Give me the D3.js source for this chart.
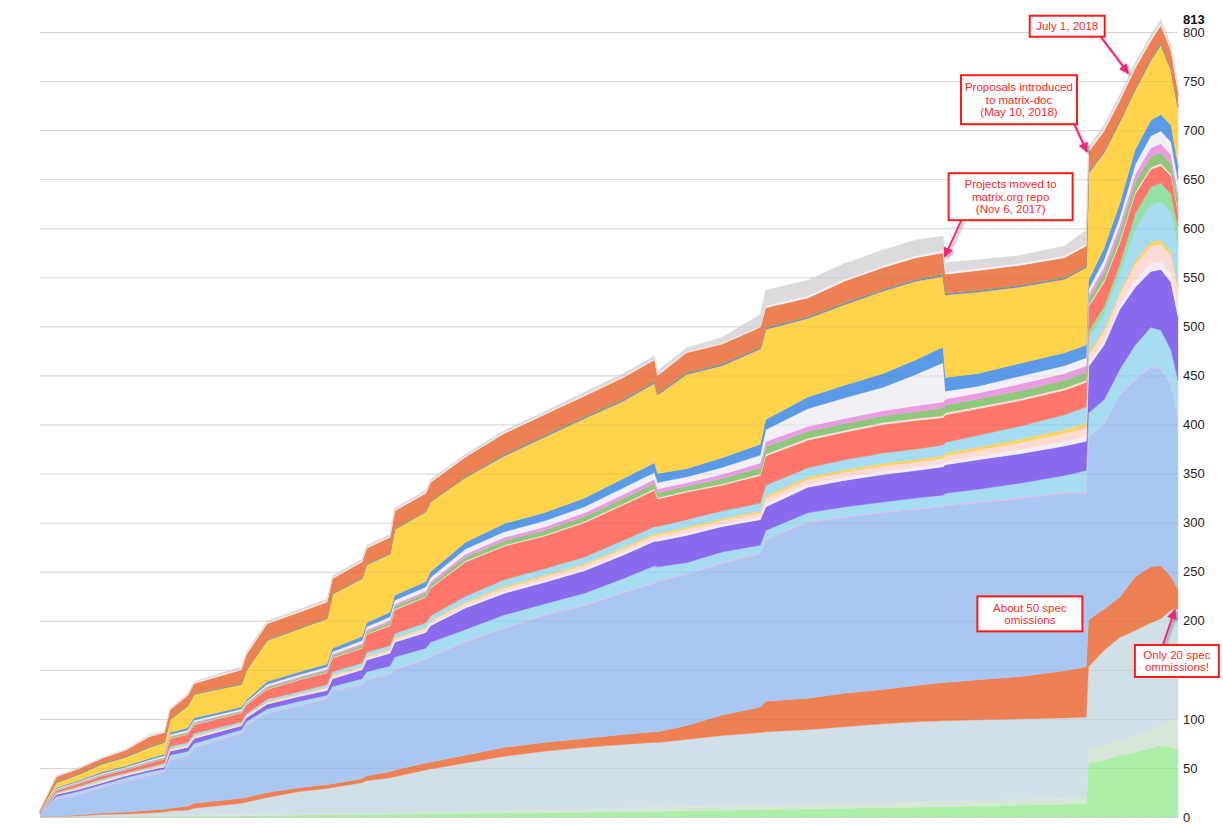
<!DOCTYPE html>
<html><head><meta charset="utf-8">
<script src="https://cdn.jsdelivr.net/npm/d3@7"></script>
<style>body{margin:0;background:#fff;}svg{display:block;font-family:"Liberation Sans",Arial,sans-serif;}</style>
</head><body><svg id="c" width="1223" height="825"></svg>
<script>
// ---------- data ----------
const dates = ["2014-09-01","2014-09-22","2014-10-20","2014-11-20","2014-12-20","2015-01-20","2015-02-08","2015-02-15","2015-03-10","2015-03-18",
"2015-05-18","2015-05-24","2015-06-20","2015-08-01","2015-09-05","2015-09-12","2015-10-20","2015-10-26","2015-11-25","2015-12-01",
"2016-01-10","2016-01-16","2016-03-01","2016-04-20","2016-06-10","2016-08-01","2016-09-20","2016-10-30","2016-11-03","2016-12-10",
"2017-01-25","2017-03-15","2017-03-22","2017-05-15","2017-07-01","2017-08-20","2017-10-01","2017-11-05","2017-11-08","2017-12-20",
"2018-02-10","2018-04-10","2018-05-08","2018-05-11","2018-05-31","2018-06-20","2018-07-10","2018-07-30","2018-08-12","2018-08-25","2018-09-03"];

const greenBase = [0,.1,.2,.5,.6,.7,.8,.8,.9,1, 1.4,1.4,1.6,2,2.2,2.2,2.5,2.6,2.8,2.8, 3.1,3.2,3.6,4,4.4,4.8,5.3,5.8,5.8,6.5, 7,7.6,7.7,8.2,8.8,9.5,10,10.5,10.5,11.2, 12,13,14,55,58,63,66,70,73,71,68];
const greyGreen = [.1,.1,.2,.5,.6,.7,.8,.9,1,1, 1.1,1.1,1.2,1,1.2,1.3,1.5,1.6,1.8,1.9, 2.2,2.2,2.4,3,3.4,3.7,4,4.2,4.2,4.2, 4.5,4.6,4.6,5,5.2,5.3,5.5,5.5,5.5,5.8, 6,6,6,15,15,15,18,19,20,28,32];
const covered = [.2,.3,.6,1.5,1.8,2.6,3.4,4.3,5.1,7, 11.5,12.5,17.2,23,25.6,26.5,31,32.8,35.4,36.3, 42.7,43.6,49,55,59.2,62.5,64.7,66,66,68.3, 71.5,73.8,74.7,75.8,78,80.2,81.5,82,82,82, 82,82,82,83,97,105,106,109,109,112,112];
const omissions = [.2,.5,1,1.5,2,3,3,3,4,5, 5,5,5,4,4,4,4,5,6,7, 7,7,8,9,9,9,10,11,11,14, 21,26,31,32,34,35,37,39,39,41, 43,48,51,48,42,41,55,57,54,34,20];
const lightBlue = [2.5,17,20,26,31,35,38,48,51,56, 66,73,80,83,87,94,95,97,99,102, 105,107,115,121,129,135,144,151,153,154, 154,156,164,179,179,180,179,179,180,180, 181,181,177,186,188,206,200,203,200,195,173];
const pinkLine = [.2,1,1,1,1,1,1,1,1,1, 1,1,1,1,1,1,1,1,1,1, 1,1,1,1,1,1,1,1,1,1, 1,1,1,1,1,1,1,1,1,1, 1,1,1,1,1,1,1,1,1,1,1];
const cyanLow = [.3,2,3,2,3,3,2,5,4,4, 3,3,4,4,3,4,6,8,8,12, 11,14,12,13,11,12,14,17,14,11, 11,8,9,9,10,10,11,11,12,13, 15,17,22,24,24,25,35,40,39,35,39];
const purple = [.3,2,2,2,2,2,2,4,4,5, 4,4,5,5,5,8,9,12,13,15, 16,17,22,22,22,23,24,25,26,28, 26,26,24,26,27,28,28,29,29,30, 30,30,30,47,56,61,59,57,62,69,65];
const whiteLow = [.1,.3,.4,.6,.5,.5,.6,.7,.7,.7, .6,.6,.7,.7,.9,1,1,1.2,1.2,1.3, 1.5,1.5,1.8,2,2,2,2.2,2.2,2.2,2.4, 2.4,2.5,3.3,3,3.2,3.3,3.3,3.3,3.4,3.7, 4.2,4.8,5.2,4,4,5,7,8,8,8,8];
const peach = [.1,.5,.8,1,.8,.8,1,1.3,1.3,1.3, 1,1,1.3,1.3,1.5,1.8,1.8,2,2,2.3, 2.5,2.5,3,3.5,3.5,3.5,3.8,3.8,3.8,4, 4,4.3,5.5,5,5.2,5.5,5.5,5.5,5.8,6.3, 7,8,8.8,8,9,10,16,18,18,19,19];
const yellowThin = [.1,.3,.4,.5,.4,.4,.5,.6,.6,.6, .5,.5,.6,.6,.7,.8,.8,1,1,1.1, 1.2,1.2,1.4,1.7,1.7,1.7,1.8,1.8,1.8,1.9, 1.9,2,2.6,2.4,2.5,2.6,2.6,2.6,2.8,3, 3.4,3.8,4.2,3,3,3,4,4,4,4,4];
const cyanMid = [.2,.9,1.4,1.9,1.3,1.3,1.9,2.4,2.4,2.4, 1.9,1.9,2.4,2.4,2.9,3.4,3.4,3.8,3.8,4.3, 4.8,4.8,5.8,6.8,6.8,6.8,7.2,7.2,7.2,7.7, 7.7,8.2,10.6,9.6,10.1,10.6,10.6,10.6,11,12, 13.4,15.4,16.8,14,15,18,32,38,39,40,41];
const mint = [0,0,0,0,0,0,0,0,0,0, 0,0,0,0,0,0,0,0,0,0, 0,0,0,0,0,0,0,0,0,0, 0,0,0,0,0,0,0,0,0,0, 0,0,0,7,8,10,16,18,19,19,19];
const salmon = [.3,2,3,3,3,4,4,8,8,9, 9,9,10,12,12,14,15,18,20,24, 26,28,35,34,33,35,36,37,28,28, 26,28,30,28,28,29,29,28,28,27, 26,25,25,25,25,22,20,18,18,18,16];
const blush = [.1,.2,.2,.2,.2,.3,.3,.3,.4,.4, .3,.3,.4,.4,.5,.5,.6,.6,.7,.8, .8,.9,1,1,1.2,1.2,1.3,1.4,1.3,1.2, 1.4,1.6,1.8,2,2,2,2,2,2,2, 2,2,2,1.5,2,2,2,2,2,2,2];
const greenMid = [.1,.6,.6,.8,.8,1,1,1.2,1.4,1.4, 1.2,1,1.6,1.6,1.8,2,2.4,2.4,2.8,3, 3.2,3.4,4,4.6,4.8,5,5.4,5.6,5.2,4.8, 5.6,6.4,7.4,7,7,7,7,8,8,8, 8,8,8,6,8,9,10,11,11,11,10];
const pink = [.1,.5,.5,.6,.6,.7,.7,.9,1,1, .9,.7,1.2,1.2,1.3,1.5,1.8,1.8,2.1,2.2, 2.4,2.5,3,3.4,3.6,3.8,4,4.2,3.9,3.6, 4.2,4.8,5.5,5,5,5,6,6,6,6, 7,7,7,5,6,7,8,9,9,9,8];
const whiteMid = [.1,.7,.7,1,1,1.3,1.3,1.6,1.8,1.8, 1.6,1.3,2,2,2.3,2.5,3,3,3.5,3.8, 4,4.2,5,5.8,6,6.2,6.8,7,6.5,6, 7,8,12,18,21,24,32,40,8,7, 8,8,8,5.5,7,8,10,12,13,13,12];
const blue = [.3,1,1,1.4,1.4,1.7,1.7,2,2.4,2.4, 2,1.7,2.8,2.8,3.1,3.5,4.2,4.2,4.9,5.2, 5.6,6,7,8.2,8.4,8.8,9.5,9.8,9.1,8.4, 9.8,11.2,10.3,12,13,14,15,16,14,13, 13,13,13,9,12,14,15,16,17,17,16];
const yellow = [.8,5,6,8,9,11,12,13,22,24, 23,30,42,44,46,55,59,59,59,67, 71,71,66,69,77,81,79,81,80,96, 94,97,92,80,82,84,80,72,84,83, 78,75,79,109,97,83,61,61,71,56,58];
const purpleLine = [.1,.5,.5,.5,.5,.5,.5,.5,.5,.5, .5,.5,.5,.5,.5,.5,.5,.5,.5,.5, .5,.5,.5,1,1,1,1,1,1,1, 1,1,1,1,1,1,1,1,1,1, 1,1,1,1,1,1,1,1,1,1,1];
const greenLine = [.1,.5,.5,.5,.5,.5,.5,.5,.5,.5, .5,.5,.5,.5,.5,.5,.5,.5,.5,.5, .5,.5,.5,1,1,1,1,1,1,1, 1,1,1,1,1,1,1,1,1,1, 1,1,1,1,1,1,1,1,1,1,1];
const orangeTop = [.8,5,5,5,6,10,9,9,10,10, 14,15,16,16,16,15,16,16,16,18, 18,19,20,21,21,21,22,22,18,20, 20,20,20,19,22,22,22,22,19,20, 20,20,20,20,20,20,20,18,18,18,15];
const whiteTop = [.3,.5,.5,.5,.5,1,1,1,1,1, 1,1,1,1,1,1,1,1,1,1, 1,1,1,1,1,1,1,1,1,1, 1,1,2,2,2,2,2,2,2,2, 2,2,2,2,2,2,2,2,2,2,2];
const greyTop = [.3,.5,.5,.5,.5,1,1,1,1,1, 2,2,2,2,2,2,2,2,2,2, 2,2,2,2,2,3,3,3,4,4, 6,12,16,16,16,16,16,15,10,9, 8,10,14,3,4,4,4,4,4,4,4];

const yTicks = [0,50,100,150,200,250,300,350,400,450,500,550,600,650,700,750,800];

const seriesNames = ["greenBase","greyGreen","covered","omissions","lightBlue","pinkLine","cyanLow","purple","whiteLow","peach","yellowThin","cyanMid","mint","salmon","blush","greenMid","pink","whiteMid","blue","yellow","purpleLine","greenLine","orangeTop","whiteTop","greyTop"];
const seriesValues = [greenBase,greyGreen,covered,omissions,lightBlue,pinkLine,cyanLow,purple,whiteLow,peach,yellowThin,cyanMid,mint,salmon,blush,greenMid,pink,whiteMid,blue,yellow,purpleLine,greenLine,orangeTop,whiteTop,greyTop];

const annotations = [
  {date:"2018-07-01", value:758, lines:["July 1, 2018"]},
  {date:"2018-05-09", value:678, lines:["Proposals introduced","to matrix-doc","(May 10, 2018)"]},
  {date:"2017-11-07", value:571, lines:["Projects moved to","matrix.org repo","(Nov 6, 2017)"]},
  {date:"2018-04-17", value:152, lines:["About 50 spec","omissions"]},
  {date:"2018-08-30", value:211, lines:["Only 20 spec","ommissions!"]}
];

// ---------- styles (kept apart from data) ----------
const colors = {greenBase:"#acefa7",greyGreen:"#d6e6d9",covered:"#d1e0e6",omissions:"#ee8153",lightBlue:"#a8c8f2",pinkLine:"#eeaee6",
  cyanLow:"#a6ddf3",purple:"#8a6bee",whiteLow:"#f1eef6",peach:"#fedcd5",yellowThin:"#ffd35c",cyanMid:"#a6ddf3",mint:"#94e0a6",
  salmon:"#fe776a",blush:"#fbe1e1",greenMid:"#8fc87b",pink:"#ea9ce2",whiteMid:"#f2f0f5",blue:"#5a9ae7",yellow:"#ffd44b",
  purpleLine:"#8a6bee",greenLine:"#62ad62",orangeTop:"#ee8153",whiteTop:"#f4f2f5",greyTop:"#dcdadd"};
const annLayout = [
  {dx:-61, dy:-47, w:75, h:21, sx:33, sy:10},
  {dx:-68, dy:-52, w:116, h:49, sx:55, sy:24},
  {dx:66, dy:-60, w:124, h:47, sx:-49, sy:23},
  {dx:-40, dy:-54, w:105, h:35, sx:40, sy:17},
  {dx:2, dy:51, w:84, h:32, sx:-14, sy:-16}
];

// ---------- chart ----------
const svg = d3.select("#c");
const parse = d3.utcParse("%Y-%m-%d");
const rows = dates.map((d,i)=>{const r={date:parse(d)}; seriesNames.forEach((n,k)=>r[n]=seriesValues[k][i]); return r;});
const x = d3.scaleUtc().domain(d3.extent(rows,d=>d.date)).range([40,1178]);
const y = d3.scaleLinear().domain([0,800]).range([817,32]);

const defs = svg.append("defs");
defs.append("filter").attr("id","sh").attr("x","-20%").attr("y","-20%").attr("width","140%").attr("height","140%")
  .append("feDropShadow").attr("dx",2).attr("dy",2).attr("stdDeviation",1.3).attr("flood-color","#000").attr("flood-opacity",0.3);
defs.append("marker").attr("id","ah").attr("viewBox","0 0 10 10").attr("refX",9).attr("refY",5)
  .attr("markerWidth",5).attr("markerHeight",5).attr("orient","auto").attr("markerUnits","strokeWidth")
  .append("path").attr("d","M0,0L10,5L0,10z").attr("fill","#f2277e");

svg.append("g").selectAll("line").data(yTicks).join("line")
  .attr("x1",40).attr("x2",1178).attr("y1",d=>y(d)+0.5).attr("y2",d=>y(d)+0.5)
  .attr("stroke","#e2e2e2").attr("stroke-width",1);

const stack = d3.stack().keys(seriesNames)(rows);
const area = d3.area().x(d=>x(d.data.date)).y0(d=>y(d[0])).y1(d=>y(d[1]));
svg.append("g").selectAll("path").data(stack).join("path")
  .attr("d",area).attr("fill",d=>colors[d.key]).attr("stroke",d=>colors[d.key]).attr("stroke-width",0.4);

svg.append("g").selectAll("line").data(yTicks).join("line")
  .attr("x1",40).attr("x2",1178).attr("y1",d=>y(d)+0.5).attr("y2",d=>y(d)+0.5)
  .attr("stroke","rgba(90,90,110,0.10)").attr("stroke-width",1);

// annotation boxes (computed first so hidden tick labels can be skipped)
const boxes = annotations.map((a,i)=>{
  const L = annLayout[i];
  const tx = x(parse(a.date)), ty = y(a.value);
  return {a, L, tx, ty, cx:tx+L.dx, cy:ty+L.dy};
});
const hidden = v => boxes.some(b => 1183 < b.cx+b.L.w/2 && 1205 > b.cx-b.L.w/2 && Math.abs(y(v)-b.cy) < b.L.h/2+2);

const ax = svg.append("g").attr("transform","translate(1178,0)")
  .call(d3.axisRight(y).tickValues(yTicks.filter(v=>!hidden(v))).tickSize(0).tickPadding(5));
ax.select(".domain").remove();
ax.selectAll("text").attr("font-size",13).attr("fill","#222").attr("font-family","Liberation Sans, Arial, sans-serif");

const totals = rows.map((r,i)=>d3.sum(seriesValues,v=>v[i]));
const maxTotal = d3.max(totals);
svg.append("text").attr("x",1183).attr("y",y(maxTotal)).attr("dy","0.35em")
  .attr("font-size",13).attr("font-weight","bold").attr("fill","#111").text(Math.round(maxTotal));

const ag = svg.append("g");
boxes.forEach(({a,L,tx,ty,cx,cy})=>{
  ag.append("line").attr("x1",cx+L.sx).attr("y1",cy+L.sy).attr("x2",tx).attr("y2",ty)
    .attr("stroke","#f2277e").attr("stroke-width",2).attr("marker-end","url(#ah)").attr("filter","url(#sh)");
  ag.append("rect").attr("x",cx-L.w/2).attr("y",cy-L.h/2).attr("width",L.w).attr("height",L.h)
    .attr("fill","#fff").attr("stroke","#ff1a1a").attr("stroke-width",2);
  const lh = 12.7, n = a.lines.length;
  const t = ag.append("text").attr("text-anchor","middle").attr("font-size",11.5).attr("fill","#ff2626");
  a.lines.forEach((s,k)=>{
    t.append("tspan").attr("x",cx).attr("y",cy + (k-(n-1)/2)*lh).attr("dy","0.35em").text(s);
  });
});
</script></body></html>
